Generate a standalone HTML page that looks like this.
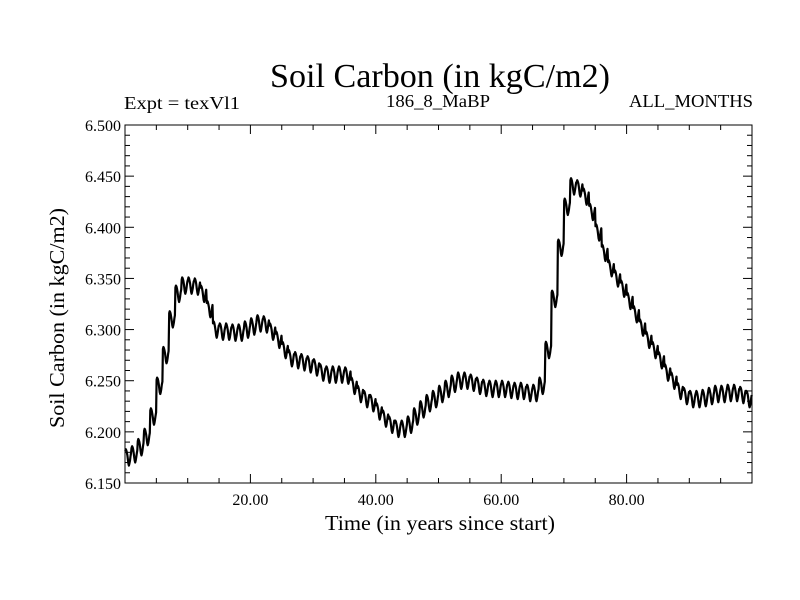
<!DOCTYPE html>
<html><head><meta charset="utf-8"><style>
body{margin:0;background:#fff}
svg{display:block;font-family:"Liberation Serif",serif}
</style></head><body>
<svg id="chart" width="800" height="600" viewBox="0 0 800 600">
<rect width="800" height="600" fill="#fff"/>
<text x="440" y="87" font-size="34" text-anchor="middle" textLength="340" lengthAdjust="spacingAndGlyphs">Soil Carbon (in kgC/m2)</text>
<text x="124" y="109" font-size="18" textLength="116" lengthAdjust="spacingAndGlyphs">Expt = texVl1</text>
<text x="438" y="107" font-size="18" text-anchor="middle" textLength="104" lengthAdjust="spacingAndGlyphs">186_8_MaBP</text>
<text x="753" y="107" font-size="18" text-anchor="end" textLength="124" lengthAdjust="spacingAndGlyphs">ALL_MONTHS</text>
<text x="440" y="530" font-size="21" text-anchor="middle" textLength="230" lengthAdjust="spacingAndGlyphs">Time (in years since start)</text>
<text transform="translate(64,318) rotate(-90)" font-size="21" text-anchor="middle" textLength="220" lengthAdjust="spacingAndGlyphs">Soil Carbon (in kgC/m2)</text>
<g id="axes"></g>
<path id="series" fill="none" stroke="#000" stroke-width="2.2" stroke-linejoin="round"/>
<rect x="125" y="125" width="627" height="358" fill="none" stroke="#000" stroke-width="1"/>
</svg>
<script>
const annualMeans = [6.175,6.178,6.185,6.195,6.215,6.245,6.275,6.31,6.335,6.343,6.343,6.342,6.335,6.32,6.30,6.298,6.298,6.297,6.297,6.300,6.303,6.306,6.305,6.298,6.29,6.28,6.272,6.27,6.268,6.266,6.263,6.258,6.256,6.256,6.256,6.255,6.245,6.237,6.232,6.228,6.22,6.213,6.207,6.203,6.203,6.207,6.215,6.222,6.228,6.232,6.237,6.242,6.247,6.25,6.25,6.248,6.245,6.243,6.242,6.242,6.242,6.241,6.24,6.24,6.238,6.238,6.245,6.28,6.33,6.38,6.42,6.44,6.438,6.43,6.415,6.395,6.375,6.36,6.35,6.34,6.328,6.315,6.302,6.29,6.28,6.27,6.258,6.25,6.24,6.235,6.232,6.232,6.233,6.235,6.237,6.237,6.238,6.238,6.236,6.232];
const seasonalCycle = [0.006,0.008,0.007,0.005,0.002,-0.002,-0.006,-0.008,-0.006,-0.003,0.001,0.004];
const yTickLabels = ["6.150","6.200","6.250","6.300","6.350","6.400","6.450","6.500"];
const xTickLabels = ["20.00","40.00","60.00","80.00"];
const X0=125,X1=752,Y0=483,Y1=125;
const xMin=0,xMax=100,yMin=6.15,yMax=6.5;
function sx(v){return X0+(v-xMin)/(xMax-xMin)*(X1-X0);}
function sy(v){return Y0-(v-yMin)/(yMax-yMin)*(Y0-Y1);}
const NS="http://www.w3.org/2000/svg";
const axes=document.getElementById('axes');
function line(x1,y1,x2,y2,name){const l=document.createElementNS(NS,'line');l.setAttribute('x1',x1);l.setAttribute('y1',y1);l.setAttribute('x2',x2);l.setAttribute('y2',y2);l.setAttribute('stroke','#000');l.setAttribute('stroke-width','1');


axes.appendChild(l);}
function text(x,y,s,anchor,name){const t=document.createElementNS(NS,'text');t.setAttribute('x',x);t.setAttribute('y',y);t.setAttribute('font-size','16');t.setAttribute('text-anchor',anchor);t.textContent=s;


axes.appendChild(t);}
for(let i=0;i<=35;i++){const v=yMin+i*0.01;const y=sy(v);const major=i%5===0;const L=major?9:5;
line(X0,y,X0+L,y,'y-tick');line(X1,y,X1-L,y,'y-tick-right');}
yTickLabels.forEach(s=>{text(X0-4,sy(parseFloat(s))+6,s,'end','y-tick-label');});
for(let v=5;v<100;v+=5){const x=sx(v);const L=v%20===0?9:5;line(x,Y0,x,Y0-L,'x-tick');line(x,Y1,x,Y1+L,'x-tick-top');}
xTickLabels.forEach(s=>{text(sx(parseFloat(s)),Y0+22,s,'middle','x-tick-label');});
let d='';
annualMeans.forEach((a,yi)=>{seasonalCycle.forEach((s,m)=>{const x=sx(yi+(m+0.5)/12);const y=sy(a+s);d+=(d?'L':'M')+x.toFixed(1)+','+y.toFixed(1);});});
document.getElementById('series').setAttribute('d',d);
</script>
</body></html>
